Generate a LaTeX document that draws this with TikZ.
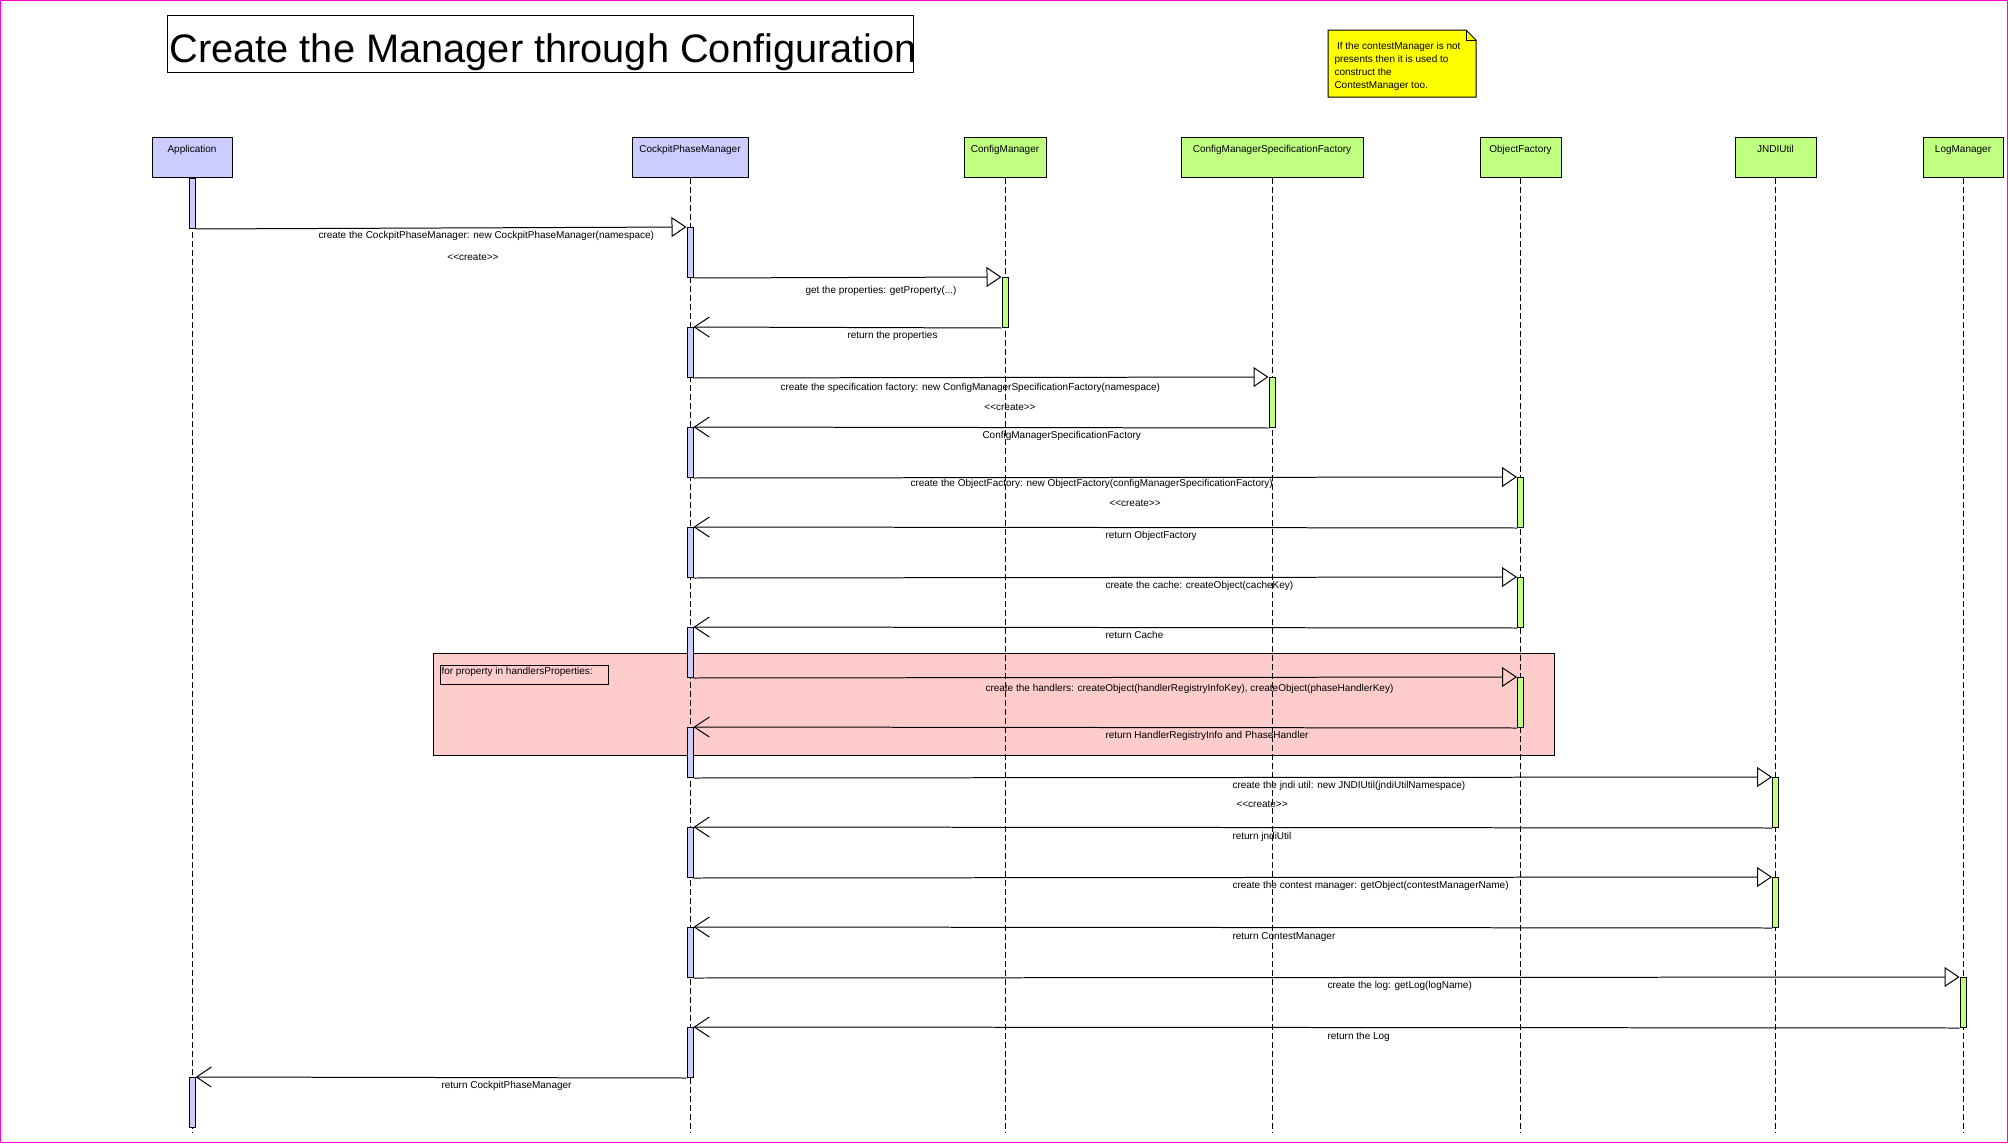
\documentclass[tikz,border=0pt]{standalone}
\usepackage{fontspec}
\setmainfont{Liberation Sans}
\usetikzlibrary{arrows.meta}
\definecolor{actorblue}{RGB}{204,204,255}
\definecolor{classgreen}{RGB}{192,255,128}
\definecolor{looppink}{RGB}{255,204,204}
\definecolor{noteyellow}{RGB}{255,255,0}
\definecolor{pageframe}{RGB}{255,0,204}
\newcommand{\msgfont}{\fontsize{14.23pt}{18.5pt}\selectfont}
\newcommand{\titlefont}{\fontsize{56.6pt}{60pt}\selectfont}

\begin{document}
\begin{tikzpicture}[x=0.05cm,y=-0.05cm,line width=1.42pt,
  lifebox/.style={draw,anchor=north,inner xsep=0pt,inner ysep=0pt,text height=0.75cm,text depth=1.25cm,font=\msgfont},
  lifeline/.style={dash pattern=on 0.3cm off 0.15cm},
  actbar/.style={draw,anchor=north,minimum width=0.3cm,minimum height=2.5cm,inner sep=0pt},
  call/.style={-{Triangle[open,length=0.75cm,width=1cm]}},
  reply/.style={-{Straight Barb[length=0.75cm,width=1cm]}},
  msg/.style={anchor=base west,inner sep=0pt,font=\msgfont}]
\useasboundingbox (0,0) rectangle (2008,1143);
\draw[pageframe] (0.5,0.5) rectangle (2007.5,1142.5);
\node[draw,anchor=north west,inner xsep=0.1cm,inner ysep=0pt,text height=2.35cm,text depth=0.5cm,font=\titlefont] (title) at (167,15) {\makebox[37.1cm][l]{Create the Manager through Configuration}};
\draw[fill=noteyellow] (1328,30) -- (1466,30) -- (1476,40) -- (1476,97) -- (1328,97) -- cycle;
\draw (1466,30) -- (1466,40) -- (1476,40);
\node[anchor=north west,inner sep=0pt,align=left,font=\msgfont] (notetext) at (1334,41.5) {\hspace{0.13cm}If the contestManager is not\\presents then it is used to\\construct the\\ContestManager too.};
\node[draw,fill=looppink,anchor=north west,minimum width=56.05cm,minimum height=5.1cm,inner sep=0pt] (loop) at (433,653) {};
\node[draw,anchor=north west,inner xsep=0.05cm,inner ysep=0pt,text height=0.45cm,text depth=0.5cm,font=\msgfont] (looplabel) at (440,665) {\makebox[8.3cm][l]{for property in handlersProperties:}};
\node[lifebox,fill=actorblue,minimum width=4cm] (app) at (192,137) {Application};
\node[lifebox,fill=actorblue,minimum width=5.8cm] (cpm) at (690,137) {CockpitPhaseManager};
\node[lifebox,fill=classgreen,minimum width=4.1cm] (cfg) at (1005,137) {ConfigManager};
\node[lifebox,fill=classgreen,minimum width=9.1cm] (spec) at (1272,137) {ConfigManagerSpecificationFactory};
\node[lifebox,fill=classgreen,minimum width=4.05cm] (objf) at (1520.5,137) {ObjectFactory};
\node[lifebox,fill=classgreen,minimum width=4.05cm] (jndi) at (1775.5,137) {JNDIUtil};
\node[lifebox,fill=classgreen,minimum width=4cm] (logm) at (1963,137) {LogManager};
\coordinate (lineend) at (0,1132);
\draw[lifeline] (app.south) -- (app.south |- lineend);
\draw[lifeline] (cpm.south) -- (cpm.south |- lineend);
\draw[lifeline] (cfg.south) -- (cfg.south |- lineend);
\draw[lifeline] (spec.south) -- (spec.south |- lineend);
\draw[lifeline] (objf.south) -- (objf.south |- lineend);
\draw[lifeline] (jndi.south) -- (jndi.south |- lineend);
\draw[lifeline] (logm.south) -- (logm.south |- lineend);
\node[actbar,fill=actorblue] (app1) at (app.south) {};
\node[actbar,fill=actorblue] (app2) at (app |- 0,1077) {};
\node[actbar,fill=actorblue] (cpm1) at (cpm |- 0,227) {};
\node[actbar,fill=actorblue] (cpm2) at (cpm |- 0,327) {};
\node[actbar,fill=actorblue] (cpm3) at (cpm |- 0,427) {};
\node[actbar,fill=actorblue] (cpm4) at (cpm |- 0,527) {};
\node[actbar,fill=actorblue] (cpm5) at (cpm |- 0,627) {};
\node[actbar,fill=actorblue] (cpm6) at (cpm |- 0,727) {};
\node[actbar,fill=actorblue] (cpm7) at (cpm |- 0,827) {};
\node[actbar,fill=actorblue] (cpm8) at (cpm |- 0,927) {};
\node[actbar,fill=actorblue] (cpm9) at (cpm |- 0,1027) {};
\node[actbar,fill=classgreen] (cfg1) at (cfg |- 0,277) {};
\node[actbar,fill=classgreen] (spec1) at (spec |- 0,377) {};
\node[actbar,fill=classgreen] (objf1) at (objf |- 0,477) {};
\node[actbar,fill=classgreen] (objf2) at (objf |- 0,577) {};
\node[actbar,fill=classgreen] (objf3) at (objf |- 0,677) {};
\node[actbar,fill=classgreen] (jndi1) at (jndi |- 0,777) {};
\node[actbar,fill=classgreen] (jndi2) at (jndi |- 0,877) {};
\node[actbar,fill=classgreen] (logm1) at (logm |- 0,977) {};
\draw[call] (app1.south east) -- (cpm1.north west);
\draw[call] (cpm1.south east) -- (cfg1.north west);
\draw[reply] (cfg1.south west) -- (cpm2.north east);
\draw[call] (cpm2.south east) -- (spec1.north west);
\draw[reply] (spec1.south west) -- (cpm3.north east);
\draw[call] (cpm3.south east) -- (objf1.north west);
\draw[reply] (objf1.south west) -- (cpm4.north east);
\draw[call] (cpm4.south east) -- (objf2.north west);
\draw[reply] (objf2.south west) -- (cpm5.north east);
\draw[call] (cpm5.south east) -- (objf3.north west);
\draw[reply] (objf3.south west) -- (cpm6.north east);
\draw[call] (cpm6.south east) -- (jndi1.north west);
\draw[reply] (jndi1.south west) -- (cpm7.north east);
\draw[call] (cpm7.south east) -- (jndi2.north west);
\draw[reply] (jndi2.south west) -- (cpm8.north east);
\draw[call] (cpm8.south east) -- (logm1.north west);
\draw[reply] (logm1.south west) -- (cpm9.north east);
\draw[reply] (cpm9.south west) -- (app2.north east);
\node[msg] (lbl1) at (318,238) {create the CockpitPhaseManager: new CockpitPhaseManager(namespace)};
\node[msg,anchor=base] (new1) at (473,260) {<{}<create>{}>};
\node[msg] (lbl2) at (805,293) {get the properties: getProperty(...)};
\node[msg] (lbl3) at (847,338) {return the properties};
\node[msg] (lbl4) at (780,390) {create the specification factory: new ConfigManagerSpecificationFactory(namespace)};
\node[msg,anchor=base] (new4) at (1010,410) {<{}<create>{}>};
\node[msg] (lbl5) at (982,438) {ConfigManagerSpecificationFactory};
\node[msg] (lbl6) at (910,486) {create the ObjectFactory: new ObjectFactory(configManagerSpecificationFactory)};
\node[msg,anchor=base] (new6) at (1135,506) {<{}<create>{}>};
\node[msg] (lbl7) at (1105,538) {return ObjectFactory};
\node[msg] (lbl8) at (1105,588) {create the cache: createObject(cacheKey)};
\node[msg] (lbl9) at (1105,638) {return Cache};
\node[msg] (lbl10) at (985,691) {create the handlers: createObject(handlerRegistryInfoKey), createObject(phaseHandlerKey)};
\node[msg] (lbl11) at (1105,738) {return HandlerRegistryInfo and PhaseHandler};
\node[msg] (lbl12) at (1232,788) {create the jndi util: new JNDIUtil(jndiUtilNamespace)};
\node[msg] (new12) at (1236,807) {<{}<create>{}>};
\node[msg] (lbl13) at (1232,839) {return jndiUtil};
\node[msg] (lbl14) at (1232,888) {create the contest manager: getObject(contestManagerName)};
\node[msg] (lbl15) at (1232,939) {return ContestManager};
\node[msg] (lbl16) at (1327,988) {create the log: getLog(logName)};
\node[msg] (lbl17) at (1327,1039) {return the Log};
\node[msg] (lbl18) at (441,1088) {return CockpitPhaseManager};
\end{tikzpicture}
\end{document}
